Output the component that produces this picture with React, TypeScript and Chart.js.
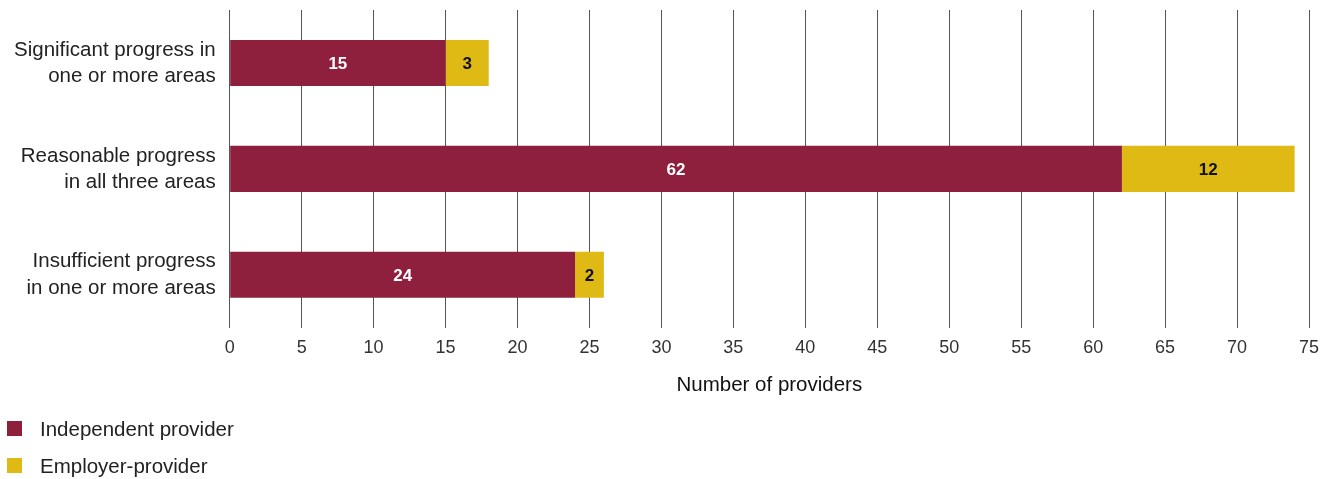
import React, { useEffect, useRef } from "react";
import { Chart, registerables } from "chart.js";

Chart.register(...registerables);

const categories: string[][] = [
  ["Significant progress in", "one or more areas"],
  ["Reasonable progress", "in all three areas"],
  ["Insufficient progress", "in one or more areas"],
];
const independentValues = [15, 62, 24];
const employerValues = [3, 12, 2];
const seriesNames = ["Independent provider", "Employer-provider"];
const xTicks = [0, 5, 10, 15, 20, 25, 30, 35, 40, 45, 50, 55, 60, 65, 70, 75];
const axisTitle = "Number of providers";

const COLORS = ["#8E1F3D", "#DFB914"];
const LABEL_COLORS = ["#ffffff", "#111111"];
const FONT = "'Liberation Sans', Arial, Helvetica, sans-serif";

const barLabelPlugin = {
  id: "barLabels",
  afterDatasetsDraw(chart: any) {
    const ctx = chart.ctx;
    ctx.save();
    chart.data.datasets.forEach((ds: any, di: number) => {
      const meta = chart.getDatasetMeta(di);
      meta.data.forEach((el: any, i: number) => {
        const v = ds.data[i];
        const left = Math.min(el.x, el.base);
        const right = Math.max(el.x, el.base);
        ctx.fillStyle = LABEL_COLORS[di];
        ctx.font = `bold 17px ${FONT}`;
        ctx.textAlign = "center";
        ctx.textBaseline = "middle";
        ctx.fillText(String(v), (left + right) / 2, el.y + 1);
      });
    });
    ctx.restore();
  },
};

const legendPlugin = {
  id: "vertLegend",
  afterDraw(chart: any) {
    const ctx = chart.ctx;
    ctx.save();
    const ys = [429, 466];
    seriesNames.forEach((name, i) => {
      ctx.fillStyle = COLORS[i];
      ctx.fillRect(7, ys[i] - 8, 15, 15);
      ctx.fillStyle = "#222";
      ctx.font = `20.5px ${FONT}`;
      ctx.textAlign = "left";
      ctx.textBaseline = "middle";
      ctx.fillText(name, 40, ys[i] + 1);
    });
    ctx.restore();
  },
};

export default function App() {
  const ref = useRef<HTMLCanvasElement>(null);
  useEffect(() => {
    document.body.style.margin = "0";
    const chart = new Chart(ref.current!, {
      type: "bar",
      data: {
        labels: categories,
        datasets: [
          { label: seriesNames[0], data: independentValues, backgroundColor: COLORS[0] },
          { label: seriesNames[1], data: employerValues, backgroundColor: COLORS[1] },
        ],
      },
      options: {
        indexAxis: "y",
        animation: false,
        responsive: false,
        maintainAspectRatio: false,
        layout: { padding: { top: 10, right: 24, bottom: 81, left: 0 } },
        datasets: { bar: { barPercentage: 0.435, categoryPercentage: 1 } },
        plugins: {
          legend: { display: false },
          tooltip: { enabled: false },
        },
        scales: {
          x: {
            stacked: true,
            min: 0,
            max: 75,
            afterBuildTicks: (axis: any) => {
              axis.ticks = xTicks.map((v) => ({ value: v }));
            },
            grid: { color: "#555", lineWidth: 1, drawTicks: false },
            border: { display: false },
            ticks: {
              color: "#333",
              font: { family: FONT, size: 18 },
              padding: 9,
              maxRotation: 0,
            },
            title: {
              display: true,
              text: axisTitle,
              color: "#111",
              font: { family: FONT, size: 20.5 },
              padding: { top: 6, bottom: 0 },
            },
          },
          y: {
            stacked: true,
            afterFit: (scale: any) => {
              scale.paddingTop = 0;
              scale.paddingBottom = 0;
            },
            grid: { display: false, drawTicks: false },
            border: { display: false },
            ticks: {
              color: "#222",
              font: { family: FONT, size: 20.5, lineHeight: 1.27 },
              padding: 14,
            },
          },
        },
      },
      plugins: [barLabelPlugin, legendPlugin],
    });
    return () => chart.destroy();
  }, []);
  return (
    <div style={{ width: 1333, height: 479 }}>
      <canvas ref={ref} width={1333} height={479} style={{ display: "block" }} />
    </div>
  );
}
